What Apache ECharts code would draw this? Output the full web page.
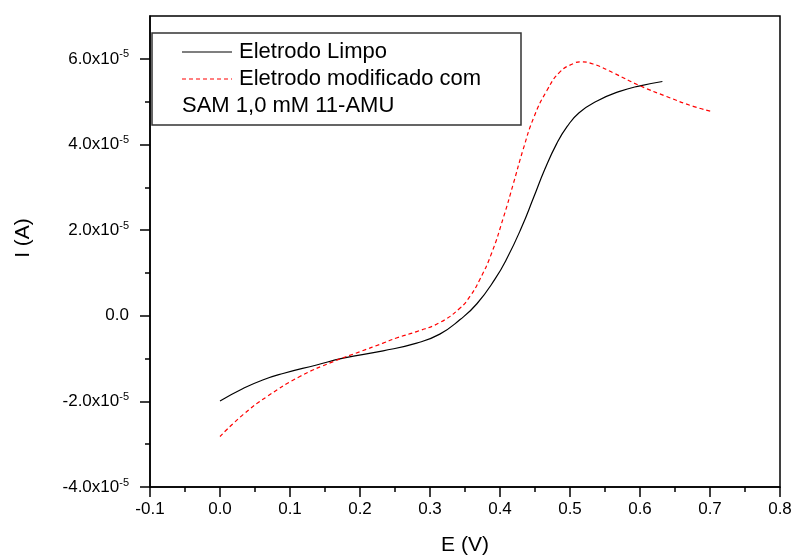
<!DOCTYPE html>
<html>
<head>
<meta charset="utf-8">
<script src="https://cdn.jsdelivr.net/npm/echarts@6/dist/echarts.min.js"></script>
<style>
html,body{margin:0;padding:0;background:#fff;}
#chart{width:795px;height:556px;}
</style>
</head>
<body>
<div id="chart"></div>
<script>
// Values: E in V, I in units of 1e-5 A
const Y_EXP = -5;
const yMajorTicks = [-4, -2, 0, 2, 4, 6];
const cleanE = [0.000,0.033,0.061,0.090,0.138,0.176,0.233,0.281,0.314,0.343,0.367,0.393,0.410,0.431,0.448,0.464,0.481,0.496,0.513,0.538,0.571,0.600,0.632];
const cleanI = [-1.99,-1.70,-1.50,-1.35,-1.15,-0.99,-0.82,-0.64,-0.43,-0.09,0.28,0.86,1.34,2.07,2.76,3.42,4.02,4.42,4.74,5.01,5.24,5.37,5.47];
const samE = [0.000,0.033,0.067,0.114,0.162,0.200,0.233,0.252,0.281,0.314,0.343,0.357,0.371,0.388,0.405,0.419,0.433,0.448,0.467,0.486,0.505,0.514,0.533,0.562,0.600,0.638,0.676,0.703];
const samI = [-2.82,-2.31,-1.89,-1.42,-1.07,-0.84,-0.64,-0.52,-0.37,-0.16,0.18,0.45,0.84,1.46,2.30,3.08,3.88,4.62,5.26,5.70,5.89,5.93,5.88,5.67,5.37,5.12,4.89,4.77];
const seriesNames = ['Eletrodo Limpo', 'Eletrodo modificado com', 'SAM 1,0 mM 11-AMU'];
const axisNames = ['E (V)', 'I (A)'];

const FONT = '"Liberation Sans", Arial, sans-serif';
const chart = echarts.init(document.getElementById('chart'));
const zip = (a, b) => a.map((v, i) => [v, b[i]]);

chart.setOption({
  animation: false,
  backgroundColor: '#fff',
  grid: {left: 150, right: 15, top: 16, bottom: 69, show: true, borderColor: '#000', borderWidth: 1.5, containLabel: false},
  xAxis: {
    type: 'value', min: -0.1, max: 0.8, interval: 0.1,
    axisLine: {show: true, onZero: false, lineStyle: {color: '#000', width: 1.5}},
    axisTick: {show: true, length: 10, lineStyle: {color: '#000', width: 1.5}},
    minorTick: {show: true, splitNumber: 2, length: 5, lineStyle: {color: '#000', width: 1.5}},
    splitLine: {show: false},
    axisLabel: {color: '#000', fontSize: 17, fontFamily: FONT, margin: 14,
      formatter: v => v.toFixed(1)}
  },
  yAxis: {
    type: 'value', min: -4, max: 7, interval: 2,
    axisLine: {show: true, onZero: false, lineStyle: {color: '#000', width: 1.5}},
    axisTick: {show: true, length: 10, customValues: yMajorTicks, lineStyle: {color: '#000', width: 1.5}},
    minorTick: {show: true, splitNumber: 2, length: 5, lineStyle: {color: '#000', width: 1.5}},
    splitLine: {show: false},
    axisLabel: {color: '#000', fontFamily: FONT, margin: 21, showMaxLabel: false,
      formatter: v => Math.abs(v) < 1e-9 ? '{m|0.0}' : '{m|' + v.toFixed(1) + 'x10}{e|' + Y_EXP + '}',
      rich: {
        m: {fontSize: 17, fontFamily: FONT, color: '#000', lineHeight: 20},
        e: {fontSize: 11, fontFamily: FONT, color: '#000', verticalAlign: 'top', lineHeight: 12}
      }
    }
  },
  series: [
    {name: seriesNames[0], type: 'line', data: zip(cleanE, cleanI), showSymbol: false, smooth: 0.5,
      lineStyle: {color: '#000', width: 1.2}, itemStyle: {color: '#000'}},
    {name: seriesNames[1], type: 'line', data: zip(samE, samI), showSymbol: false, smooth: 0.5,
      lineStyle: {color: '#ff0000', width: 1.2, type: [4, 3]}, itemStyle: {color: '#ff0000'}}
  ],
  graphic: [
    {type: 'rect', z: 100, shape: {x: 152, y: 33, width: 369, height: 92},
      style: {fill: '#fff', stroke: '#333', lineWidth: 1.5}},
    {type: 'line', z: 101, shape: {x1: 182, y1: 52, x2: 232, y2: 52}, style: {stroke: '#000', lineWidth: 1.2}},
    {type: 'text', z: 101, x: 239, y: 52, style: {text: seriesNames[0], font: '22px ' + FONT, fill: '#000', verticalAlign: 'middle'}},
    {type: 'line', z: 101, shape: {x1: 182, y1: 79, x2: 232, y2: 79}, style: {stroke: '#ff0000', lineWidth: 1.2, lineDash: [4, 3]}},
    {type: 'text', z: 101, x: 239, y: 79, style: {text: seriesNames[1], font: '22px ' + FONT, fill: '#000', verticalAlign: 'middle'}},
    {type: 'text', z: 101, x: 182, y: 106, style: {text: seriesNames[2], font: '22px ' + FONT, fill: '#000', verticalAlign: 'middle'}},
    {type: 'text', x: 465, y: 545, style: {text: axisNames[0], font: '21px ' + FONT, fill: '#000', align: 'center', verticalAlign: 'middle'}},
    {type: 'text', x: 23.5, y: 238, rotation: Math.PI / 2, style: {text: axisNames[1], font: '21px ' + FONT, fill: '#000', align: 'center', verticalAlign: 'middle'}}
  ]
});
</script>
</body>
</html>
